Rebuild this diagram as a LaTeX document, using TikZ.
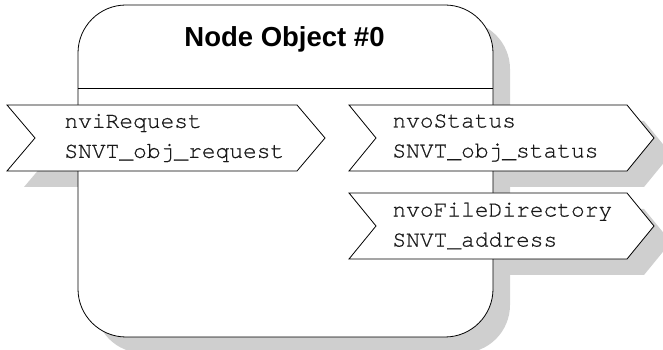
\documentclass[tikz,border=0pt]{standalone}
\usepackage{fontspec}
\setmainfont{Liberation Sans}
\setmonofont[Extension=.otf,UprightFont=*-regular,FakeBold=0.6]{texgyrecursor}
\definecolor{shadowgray}{gray}{0.81}
\begin{document}
\begin{tikzpicture}[x=1pt,y=1pt,line width=0.8pt,
	every node/.style={inner sep=0pt},
	objtitle/.style={font=\bfseries\fontsize{27.5}{33}\selectfont,anchor=base},
	netvar/.style={font=\ttfamily\fontsize{22.9}{30}\selectfont,align=left,anchor=west,text=black!90},
	nvshape/.style={draw=black,fill=white,line join=miter},
	objshadow/.style={fill=shadowgray}]

			\useasboundingbox (0,0) rectangle (663,350);

			\fill[objshadow,rounded corners=48] (95,-3) rectangle (510,329);
			\fill[objshadow] (24,229) -- (314,229) -- (342,196) -- (314,163) -- (24,163) -- (52,196) -- cycle;
			\fill[objshadow] (366,229) -- (644,229) -- (671,196) -- (644,163) -- (366,163) -- (393,196) -- cycle;
			\fill[objshadow] (366,141) -- (644,141) -- (671,108) -- (644,75) -- (366,75) -- (393,108) -- cycle;

			\draw[nvshape,rounded corners=48] (78,13) rectangle (493,345);
			\draw (78,262) -- (493,262);
			\node[objtitle] (title) at (284.5,303) {Node Object \#0};

			\draw[nvshape] (7,245) -- (297,245) -- (325,212) -- (297,179) -- (7,179) -- (35,212) -- cycle;
			\draw[nvshape] (349,245) -- (627,245) -- (654,212) -- (627,179) -- (349,179) -- (376,212) -- cycle;
			\draw[nvshape] (349,157) -- (627,157) -- (654,124) -- (627,91) -- (349,91) -- (376,124) -- cycle;

			\node[netvar] (request) at (64,212) {nviRequest\\SNVT\_obj\_request};
			\node[netvar] (status) at (392,212) {nvoStatus\\SNVT\_obj\_status};
			\node[netvar] (filedir) at (392,124) {nvoFileDirectory\\SNVT\_address};
		\end{tikzpicture}
\end{document}
